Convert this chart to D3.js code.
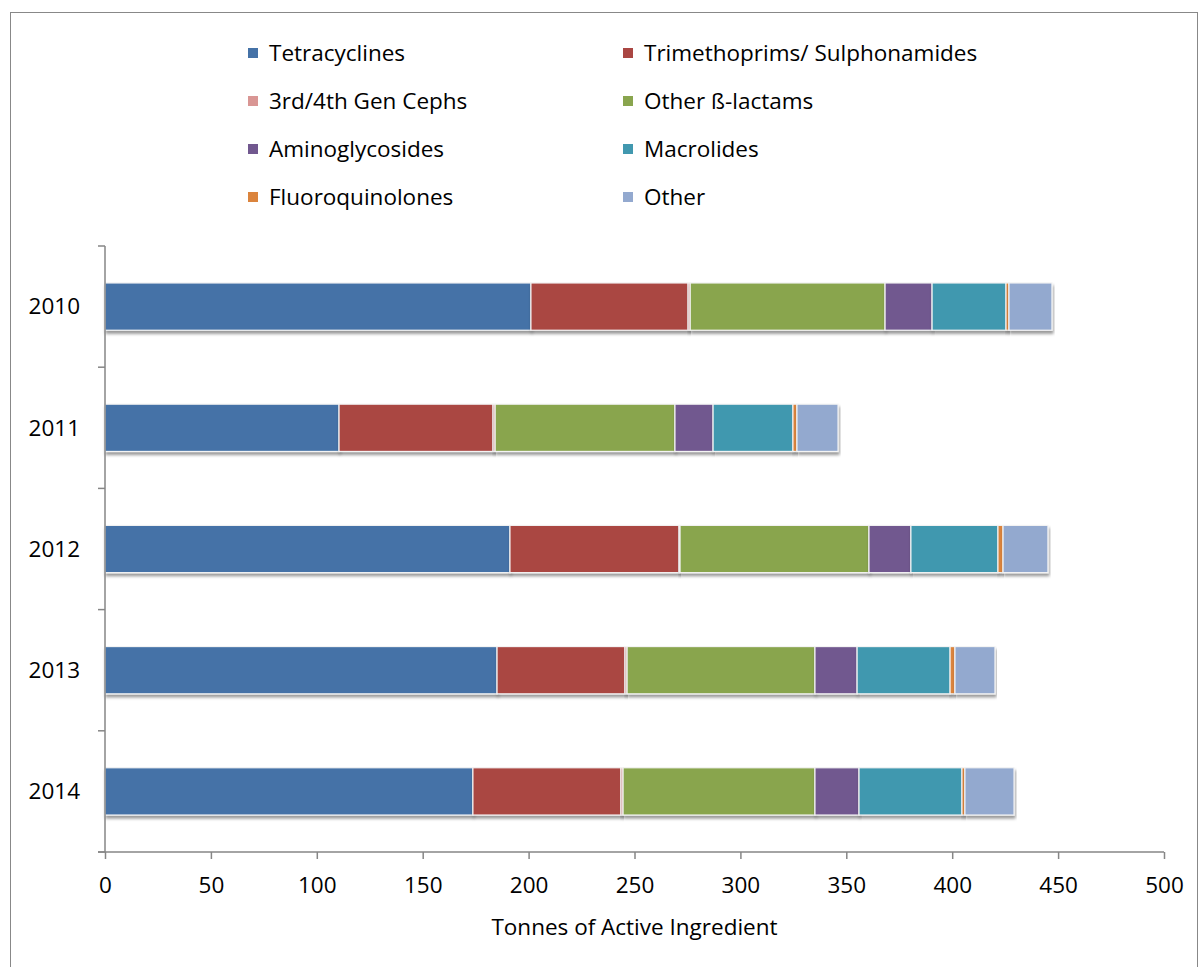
<!DOCTYPE html>
<html>
<head>
<meta charset="utf-8">
<script src="https://cdn.jsdelivr.net/npm/d3@7/dist/d3.min.js"></script>
<style>
  html, body { margin: 0; padding: 0; background: #fff; }
  svg { display: block; font-family: "Open Sans", "Noto Sans", sans-serif; }
</style>
</head>
<body>
<svg id="chart" width="1200" height="967"></svg>
<script>
// Antimicrobial sales by class, tonnes of active ingredient
const years = ["2010", "2011", "2012", "2013", "2014"];
const classes = [
  "Tetracyclines", "Trimethoprims/ Sulphonamides", "3rd/4th Gen Cephs", "Other ß-lactams",
  "Aminoglycosides", "Macrolides", "Fluoroquinolones", "Other"
];
const tetracyclines   = [201.1, 110.5, 191.2, 185.1, 173.7];
const trimethoprims   = [74.2, 72.7, 79.8, 60.4, 69.9];
const cephs           = [1.0, 1.0, 0.5, 1.0, 1.0];
const otherBetaLact   = [92.0, 84.9, 89.2, 88.7, 90.6];
const aminoglycosides = [22.2, 18.0, 19.8, 19.9, 20.8];
const macrolides      = [34.9, 37.7, 41.1, 43.9, 48.6];
const fluoroquinolones = [1.4, 1.9, 2.4, 2.3, 1.4];
const other           = [20.3, 19.4, 21.2, 18.9, 23.2];
const xTicks = [0, 50, 100, 150, 200, 250, 300, 350, 400, 450, 500];
const colors = ["#4572A7", "#AA4643", "#D99694", "#89A54E", "#71588F", "#4198AF", "#DB843D", "#93A9CF"];

const seriesValues = [tetracyclines, trimethoprims, cephs, otherBetaLact,
  aminoglycosides, macrolides, fluoroquinolones, other];

const rows = years.map((y, i) => {
  const r = { year: y };
  classes.forEach((c, k) => { r[c] = seriesValues[k][i]; });
  return r;
});

const FONT = 22.5;
const svg = d3.select("#chart");
const margin = { left: 105, right: 36, top: 246, bottom: 115 };
const W = 1200, H = 967;

// outer frame
svg.append("rect")
  .attr("x", 10.5).attr("y", 12.5)
  .attr("width", 1187).attr("height", 1000)
  .attr("fill", "none").attr("stroke", "#888").attr("stroke-width", 1);

const x = d3.scaleLinear().domain([0, 500]).range([margin.left, W - margin.right]);
const y = d3.scaleBand().domain(years).range([margin.top, H - margin.bottom]).paddingInner(0.61).paddingOuter(0.305);

// drop shadow under bars
const defs = svg.append("defs");
const f = defs.append("filter").attr("id", "shadow")
  .attr("x", "-5%").attr("y", "-20%").attr("width", "110%").attr("height", "160%");
f.append("feDropShadow").attr("dx", 1).attr("dy", 3).attr("stdDeviation", 1.6)
  .attr("flood-color", "#000").attr("flood-opacity", 0.4);

const stack = d3.stack().keys(classes)(rows);

const gBars = svg.append("g");
stack.forEach((layer, k) => {
  gBars.append("g")
    .attr("fill", colors[k])
    .selectAll("rect")
    .data(layer)
    .join("rect")
    .attr("x", d => x(d[0]))
    .attr("y", d => y(d.data.year))
    .attr("width", d => Math.max(0, x(d[1]) - x(d[0])))
    .attr("height", y.bandwidth())
    .attr("stroke", "#f4f4f4")
    .attr("stroke-width", 1.2)
    .attr("filter", "url(#shadow)");
});

// y axis
const yAxisG = svg.append("g").attr("transform", `translate(${margin.left},0)`);
yAxisG.append("line")
  .attr("x1", 0).attr("x2", 0)
  .attr("y1", margin.top).attr("y2", H - margin.bottom)
  .attr("stroke", "#868686").attr("stroke-width", 1.5);
const bounds = d3.range(years.length + 1).map(i => margin.top + i * (H - margin.top - margin.bottom) / years.length);
yAxisG.selectAll("line.tick").data(bounds).join("line")
  .attr("class", "tick")
  .attr("x1", -7).attr("x2", 0)
  .attr("y1", d => d).attr("y2", d => d)
  .attr("stroke", "#868686").attr("stroke-width", 1.5);
yAxisG.selectAll("text").data(years).join("text")
  .attr("x", -25)
  .attr("y", d => y(d) + y.bandwidth() / 2)
  .attr("dy", "0.35em")
  .attr("text-anchor", "end")
  .attr("font-size", FONT)
  .attr("fill", "#000")
  .text(d => d);

// x axis
const xAxis = d3.axisBottom(x).tickValues(xTicks).tickSize(7).tickSizeOuter(0).tickPadding(18);
const xg = svg.append("g")
  .attr("transform", `translate(0,${H - margin.bottom})`)
  .call(xAxis);
xg.select(".domain").attr("stroke", "#868686").attr("stroke-width", 1.5)
  .attr("d", `M${margin.left - 7},0H${x(500)}`);
xg.selectAll(".tick line").attr("stroke", "#868686").attr("stroke-width", 1.5);
xg.selectAll(".tick text")
  .attr("font-size", FONT)
  .attr("font-family", "'Open Sans', 'Noto Sans', sans-serif")
  .attr("fill", "#000");

svg.append("text")
  .attr("x", (x(0) + x(500)) / 2)
  .attr("y", 927)
  .attr("dy", "0.35em")
  .attr("text-anchor", "middle")
  .attr("font-size", FONT)
  .attr("fill", "#000")
  .text("Tonnes of Active Ingredient");

// legend: two columns, four rows
const legend = svg.append("g");
const colX = [248, 623];
const rowY = [53, 101, 149, 197];
classes.forEach((c, k) => {
  const cx = colX[k % 2], cy = rowY[Math.floor(k / 2)];
  legend.append("rect")
    .attr("x", cx).attr("y", cy - 5)
    .attr("width", 10).attr("height", 10)
    .attr("fill", colors[k]);
  legend.append("text")
    .attr("x", cx + 21).attr("y", cy)
    .attr("dy", "0.35em")
    .attr("font-size", FONT)
    .attr("fill", "#000")
    .text(c);
});
</script>
</body>
</html>
